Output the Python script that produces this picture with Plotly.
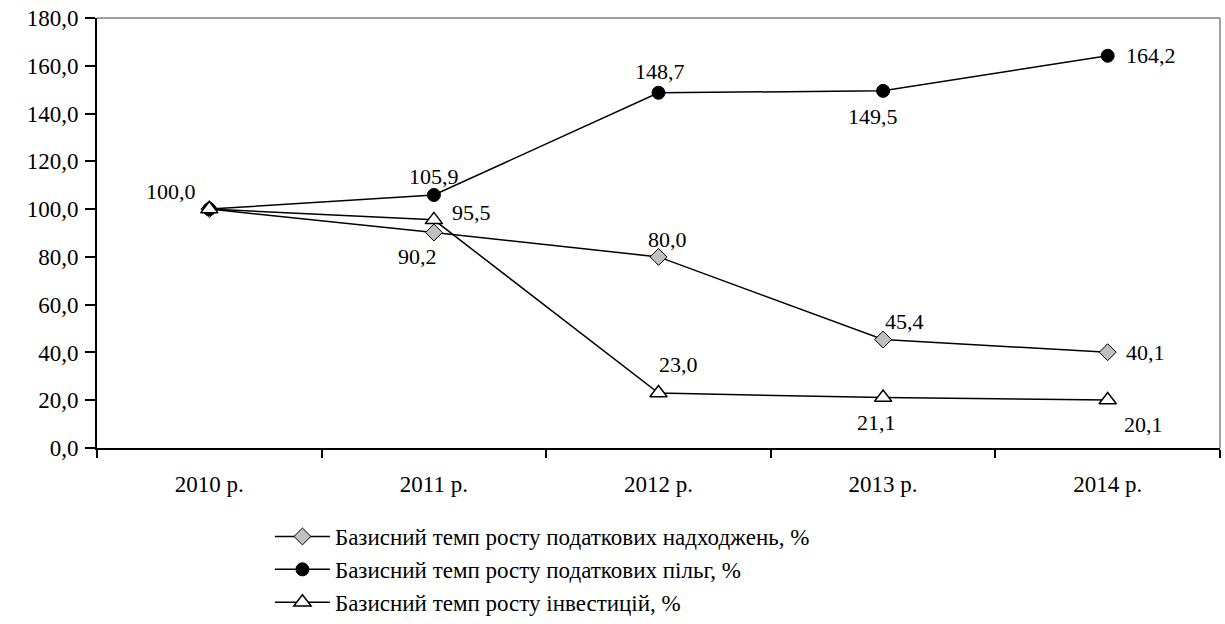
import plotly.graph_objects as go

# Years and base growth rates (2010 = 100)
years = ["2010 р.", "2011 р.", "2012 р.", "2013 р.", "2014 р."]
tax_revenue = [100.0, 90.2, 80.0, 45.4, 40.1]
tax_benefits = [100.0, 105.9, 148.7, 149.5, 164.2]
investments = [100.0, 95.5, 23.0, 21.1, 20.1]

series_names = [
    "Базисний темп росту податкових надходжень, %",
    "Базисний темп росту податкових пільг, %",
    "Базисний темп росту інвестицій, %",
]

y_ticks = [0, 20, 40, 60, 80, 100, 120, 140, 160, 180]
y_tick_text = [f"{v:.1f}".replace(".", ",") for v in y_ticks]

FONT = "Liberation Serif"

fig = go.Figure()

fig.add_trace(go.Scatter(
    x=years, y=tax_revenue, name=series_names[0], mode="lines+markers",
    line=dict(color="black", width=1.5),
    marker=dict(symbol="diamond", size=13, color="#c0c0c0",
                line=dict(color="black", width=1)),
))
fig.add_trace(go.Scatter(
    x=years, y=tax_benefits, name=series_names[1], mode="lines+markers",
    line=dict(color="black", width=1.5),
    marker=dict(symbol="circle", size=13, color="black",
                line=dict(color="black", width=1)),
))
fig.add_trace(go.Scatter(
    x=years, y=investments, name=series_names[2], mode="lines+markers",
    line=dict(color="black", width=1.5),
    marker=dict(symbol="triangle-up", size=15, color="white",
                line=dict(color="black", width=1.5)),
))

# Value labels: pixel offsets from each point
label_offsets = {
    0: [None, (-16, -24), (9, 17), (21, 18), (None, 0)],
    1: [(-38, 18), (0, 19), (1, 21), (-10, -26), (None, 0)],
    2: [None, (None, 7), (20, 29), (-7, -25), (36, -25)],
}
all_values = [tax_revenue, tax_benefits, investments]
for s, offs in label_offsets.items():
    for i, off in enumerate(offs):
        if off is None:
            continue
        dx, dy = off
        v = all_values[s][i]
        ann = dict(
            x=years[i], y=v, text=f"{v:.1f}".replace(".", ","),
            showarrow=False, font=dict(family=FONT, size=22, color="black"),
            yshift=dy,
        )
        if dx is None:
            ann.update(xanchor="left", xshift=16)
        else:
            ann.update(xanchor="center", xshift=dx)
        fig.add_annotation(**ann)

fig.update_layout(
    width=1225, height=624,
    margin=dict(l=97, r=5, t=18, b=176),
    paper_bgcolor="white", plot_bgcolor="white",
    font=dict(family=FONT, size=22, color="black"),
    showlegend=True,
    legend=dict(
        orientation="v", x=0.154, xanchor="left",
        yref="container", y=0.0, yanchor="bottom",
        font=dict(family=FONT, size=23, color="black"),
        tracegroupgap=0, itemwidth=55, bgcolor="rgba(0,0,0,0)",
    ),
)

fig.update_xaxes(
    type="category", range=[-0.5, 4.5],
    showline=True, linecolor="black", linewidth=2, mirror=False,
    ticks="outside", ticklen=8, tickwidth=2, tickcolor="black",
    tickson="boundaries", showgrid=False,
    tickfont=dict(family=FONT, size=23, color="black"), ticklabelstandoff=14,
)
fig.update_yaxes(
    range=[0, 180], tickvals=y_ticks, ticktext=y_tick_text,
    showline=True, linecolor="black", linewidth=2,
    ticks="outside", ticklen=10, tickwidth=2, tickcolor="black",
    showgrid=False, zeroline=False,
    tickfont=dict(family=FONT, size=23, color="black"), ticklabelstandoff=2,
)

# Thin grey frame along the top and right of the plot area
fig.add_shape(type="line", xref="paper", yref="paper", x0=0, x1=1, y0=1, y1=1,
              line=dict(color="#808080", width=1.5))
fig.add_shape(type="line", xref="paper", yref="paper", x0=1, x1=1, y0=0, y1=1,
              line=dict(color="#808080", width=1.5))

fig.write_html("out.html")
